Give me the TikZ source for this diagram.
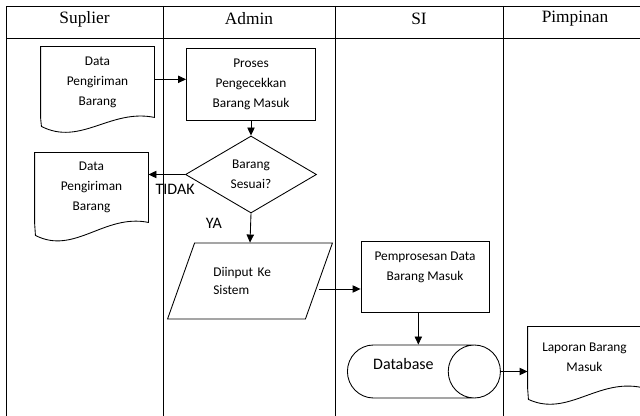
\documentclass[tikz,border=0pt]{standalone}
\usepackage{fontspec}
\setmainfont{Carlito}
\newfontfamily\headfont{Liberation Serif}
\usetikzlibrary{shapes.geometric,arrows.meta,positioning}

\begin{document}
\begin{tikzpicture}[x=0.75pt, y=-0.75pt, ->, >={Triangle[length=6pt,width=5.5pt]}, line width=0.65pt,
  lane/.style={font=\headfont\fontsize{13}{15}\selectfont},
  txt/.style={font=\fontsize{10}{15}\selectfont, align=center},
  docnode/.style={txt, rectangle, minimum width=84.75pt, inner sep=0pt},
  note/.style={font=\fontsize{12}{14}\selectfont}]
  \useasboundingbox (0,0) rectangle (640,416);
  % lanes
  \draw[-] (6,416) -- (6,6) -- (641,6);
  \draw[-] (6,38) -- (641,38);
  \foreach \x in {163,335,503} \draw[-] (\x,6) -- (\x,416);
  \node (hS) [lane] at (84.5,19) {Suplier};
  \node (hA) [lane] at (249,19) {Admin};
  \node (hSI) [lane] at (419,19) {SI};
  \node (hP) [lane] at (575,19) {Pimpinan};
  % documents
  \node (D1) [docnode, minimum height=52.5pt] at (97.5,82) {Data\\Pengiriman\\Barang};
  \draw[-] (D1.south west) -- (D1.north west) -- (D1.north east) -- (D1.south east)
    .. controls +(-44,-9) and +(39,20) .. ++(-113,9) -- cycle;
  \node (D2) [docnode, minimum height=51.75pt] at (91.5,187.5) {Data\\Pengiriman\\Barang};
  \draw[-] (D2.south west) -- (D2.north west) -- (D2.north east) -- (D2.south east)
    .. controls +(-44,-9) and +(39,20) .. ++(-113,13) -- cycle;
  \node (L) [docnode, minimum height=45pt] at (584.5,357) {Laporan Barang\\Masuk};
  \draw[-] (L.south west) -- (L.north west) -- (L.north east) -- (L.south east)
    .. controls +(-44,-9) and +(39,18) .. ++(-113,12) -- cycle;
  % process
  \node (Pr) [txt, draw, rectangle, minimum width=96.75pt, minimum height=54pt] at (251,84) {Proses\\Pengecekkan\\Barang Masuk};
  \node (Dm) [txt, draw, diamond, minimum width=98.25pt, minimum height=57.75pt, inner sep=0pt] at (251,174.5) {Barang\\Sesuai?};
  \node (I) [txt, draw, trapezium, trapezium left angle=61, trapezium right angle=119, trapezium stretches=true,
    minimum width=123.75pt, minimum height=57pt, text width=55pt, align=left, font=\fontsize{10}{13.5}\selectfont] at (250,281) {Diinput Ke\\Sistem};
  \node (B2) [txt, draw, rectangle, minimum width=96pt, minimum height=53.25pt] at (425,276.5) {Pemprosesan Data\\Barang Masuk\\~};
  \node (DB) [draw, cylinder, shape aspect=1.45, minimum height=114.75pt, minimum width=39.75pt, text depth=12pt, note, anchor=west] at (347,371.5) {Database};
  % flow
  \draw ([yshift=2pt]D1.east) -- ([yshift=2pt]D1.east -| Pr.west);
  \draw (Pr.south) -- (Dm.north);
  \draw (Dm.west) -- node[pos=0.27, below=4pt, note] {TIDAK} (Dm.west -| D2.east);
  \draw (Dm.south) -- node[pos=0.33, left=18pt, note] {YA} (I.north);
  \draw ([yshift=-6pt]I.east) -- ([yshift=-6pt]I.east -| B2.west);
  \draw ([xshift=-5pt]B2.south) -- ([xshift=-5pt]B2.south |- DB.north);
  \draw (DB.east) -- (DB.east -| L.west);
\end{tikzpicture}
\end{document}
